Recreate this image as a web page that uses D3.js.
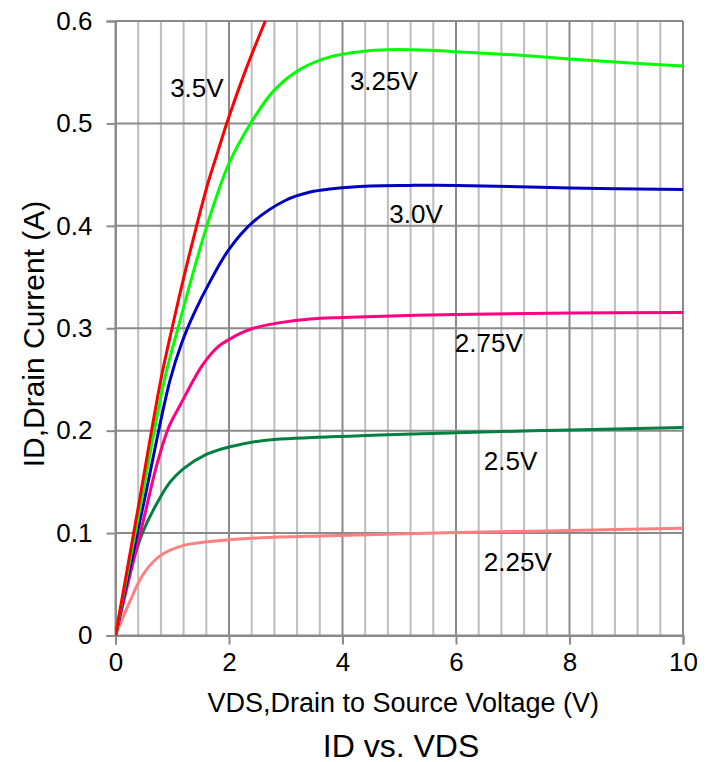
<!DOCTYPE html>
<html>
<head>
<meta charset="utf-8">
<script src="https://cdn.jsdelivr.net/npm/d3@7"></script>
<style>
  html, body { margin: 0; padding: 0; background: #fff; }
  svg { display: block; }
  text { font-family: "Liberation Sans", Arial, sans-serif; fill: #000; }
</style>
</head>
<body>
<svg id="chart" width="715" height="762"></svg>
<script>
// ---- Data ----
const seriesNames = ["3.5V", "3.25V", "3.0V", "2.75V", "2.5V", "2.25V"];
const seriesColors = ["#ff0000", "#00ff00", "#0000c0", "#ff0080", "#008040", "#ff8080"];

const vds35 = [0, 0.4, 0.8, 1.0, 1.2, 1.42, 1.62, 1.8, 1.96, 2.3, 2.64];
const id35  = [0, 0.125, 0.25, 0.301, 0.349, 0.398, 0.44, 0.472, 0.5, 0.553, 0.6];

const vds325 = [0, 0.45, 0.86, 1.10, 1.61, 2.0, 2.38, 2.79, 3.26, 3.78, 4.37, 4.78, 5.54, 6, 7, 8, 9.07, 10];
const id325  = [0, 0.13, 0.249, 0.3, 0.4, 0.461, 0.5, 0.532, 0.553, 0.565, 0.5705, 0.572, 0.5715, 0.570, 0.567, 0.563, 0.559, 0.556];

const vds30 = [0, 0.5, 0.96, 1.17, 1.38, 1.67, 2.0, 2.43, 3.0, 3.43, 3.78, 4.5, 5.19, 6, 8, 10];
const id30  = [0, 0.13, 0.249, 0.286, 0.314, 0.346, 0.377, 0.404, 0.425, 0.433, 0.436, 0.439, 0.4395, 0.4395, 0.437, 0.4355];

const vds275 = [0, 0.25, 0.49, 0.73, 0.935, 1.15, 1.37, 1.52, 1.67, 1.83, 2.0, 2.2, 2.43, 2.85, 3.43, 4, 6, 8, 10];
const id275  = [0, 0.058, 0.112, 0.167, 0.203, 0.226, 0.249, 0.263, 0.274, 0.283, 0.289, 0.295, 0.300, 0.305, 0.309, 0.3105, 0.3135, 0.3148, 0.3155];

const vds25 = [0, 0.26, 0.49, 0.79, 0.965, 1.2, 1.61, 2.0, 2.55, 3.78, 6, 8, 10];
const id25  = [0, 0.063, 0.102, 0.135, 0.150, 0.163, 0.177, 0.184, 0.190, 0.194, 0.198, 0.2007, 0.203];

const vds225 = [0, 0.26, 0.49, 0.79, 1.2, 1.61, 2.0, 2.55, 3.78, 6, 8, 10];
const id225  = [0, 0.034, 0.060, 0.078, 0.088, 0.0915, 0.0935, 0.0955, 0.0975, 0.1005, 0.1025, 0.1047];

// label anchors in data units (VDS, ID)
const labelVds = [0.963, 4.13, 4.825, 5.98, 6.49, 6.49];
const labelId  = [0.526, 0.533, 0.403, 0.2766, 0.1616, 0.0633];

const xTicks = [0, 2, 4, 6, 8, 10];
const xMinorTicks = [0.4, 0.8, 1.2, 1.6, 2.4, 2.8, 3.2, 3.6, 4.4, 4.8, 5.2, 5.6, 6.4, 6.8, 7.2, 7.6, 8.4, 8.8, 9.2, 9.6];
const yTicks = [0, 0.1, 0.2, 0.3, 0.4, 0.5, 0.6];

const xTitle = "VDS,Drain to Source Voltage (V)";
const yTitle = "ID,Drain Current (A)";
const chartTitle = "ID vs. VDS";

// ---- Layout ----
const svg = d3.select("#chart");
svg.append("rect").attr("width", 715).attr("height", 762).attr("fill", "#fff");

const pLeft = 115.5, pRight = 683, pTop = 21, pBottom = 635.5;
const x = d3.scaleLinear().domain([0, 10]).range([pLeft, pRight]);
const y = d3.scaleLinear().domain([0, 0.6]).range([pBottom, pTop]);

const series = [
  [vds35, id35], [vds325, id325], [vds30, id30],
  [vds275, id275], [vds25, id25], [vds225, id225]
].map(([vs, is], k) => ({
  name: seriesNames[k], color: seriesColors[k],
  points: vs.map((v, i) => ({ v, i: is[i] }))
}));

const gridGray = "#8a8a8a";

// minor vertical grid
svg.append("g").selectAll("line")
  .data(xMinorTicks)
  .join("line")
  .attr("x1", d => x(d)).attr("x2", d => x(d))
  .attr("y1", y(0)).attr("y2", y(0.6))
  .attr("stroke", "#bdbdbd").attr("stroke-width", 2);

// major vertical grid
svg.append("g").selectAll("line")
  .data(xTicks)
  .join("line")
  .attr("x1", d => x(d)).attr("x2", d => x(d))
  .attr("y1", y(0)).attr("y2", y(0.6))
  .attr("stroke", gridGray).attr("stroke-width", 2);

// horizontal grid
svg.append("g").selectAll("line")
  .data(yTicks)
  .join("line")
  .attr("x1", x(0)).attr("x2", x(10))
  .attr("y1", d => y(d)).attr("y2", d => y(d))
  .attr("stroke", gridGray).attr("stroke-width", 2);

// axes
const xAxis = d3.axisBottom(x).tickValues(xTicks).tickSize(9).tickPadding(8).tickFormat(d3.format("d"));
const gx = svg.append("g").attr("transform", `translate(0,${pBottom})`).call(xAxis);
gx.select(".domain").attr("stroke", gridGray).attr("stroke-width", 2);
gx.selectAll(".tick line").attr("stroke", gridGray).attr("stroke-width", 2);
gx.selectAll(".tick text").attr("font-size", 26).attr("font-family", "Liberation Sans, Arial, sans-serif").attr("fill", "#000");

const yAxis = d3.axisLeft(y).tickValues(yTicks).tickSize(9).tickPadding(14).tickFormat(d => d === 0 ? "0" : d3.format(".1f")(d));
const gy = svg.append("g").attr("transform", `translate(${pLeft},0)`).call(yAxis);
gy.select(".domain").attr("stroke", gridGray).attr("stroke-width", 2);
gy.selectAll(".tick line").attr("stroke", gridGray).attr("stroke-width", 2);
gy.selectAll(".tick text").attr("font-size", 26).attr("font-family", "Liberation Sans, Arial, sans-serif").attr("fill", "#000");

// clip
svg.append("clipPath").attr("id", "plotClip")
  .append("rect").attr("x", pLeft).attr("y", pTop - 2).attr("width", pRight - pLeft).attr("height", pBottom - pTop + 2);

const line = d3.line().x(d => x(d.v)).y(d => y(d.i)).curve(d3.curveCatmullRom.alpha(0.5));

svg.append("g").attr("clip-path", "url(#plotClip)")
  .selectAll("path")
  .data(series.slice().reverse())
  .join("path")
  .attr("d", d => line(d.points))
  .attr("fill", "none")
  .attr("stroke", d => d.color)
  .attr("stroke-width", 3)
  .attr("stroke-linejoin", "round");

// series labels
svg.append("g").selectAll("text")
  .data(seriesNames)
  .join("text")
  .attr("x", (d, k) => x(labelVds[k]))
  .attr("y", (d, k) => y(labelId[k]))
  .attr("font-size", 26)
  .text(d => d);

// titles
svg.append("text")
  .attr("x", (pLeft + pRight) / 2 + 4).attr("y", 711.5)
  .attr("text-anchor", "middle").attr("font-size", 27)
  .text(xTitle);

svg.append("text")
  .attr("transform", `translate(44,334) rotate(-90)`)
  .attr("text-anchor", "middle").attr("font-size", 30)
  .text(yTitle);

svg.append("text")
  .attr("x", 401).attr("y", 756.5)
  .attr("text-anchor", "middle").attr("font-size", 32)
  .text(chartTitle);
</script>
</body>
</html>
